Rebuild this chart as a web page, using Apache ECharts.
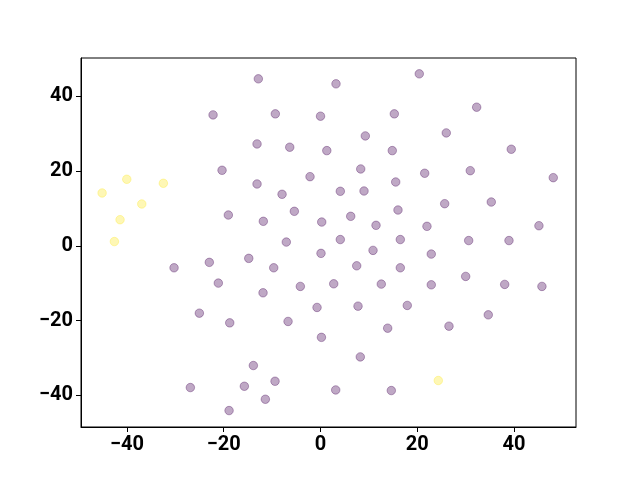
<!DOCTYPE html>
<html><head><meta charset="utf-8">
<script src="https://cdn.jsdelivr.net/npm/echarts@6/dist/echarts.min.js"></script>
<style>html,body{margin:0;padding:0;background:#fff}#c{width:640px;height:480px}</style>
</head><body><div id="c"></div>
<script>
const purpleX = [-12.85,-22.21,-9.34,0.0,-13.12,-6.36,1.30,-20.35,-2.17,-13.12,-7.95,-19.05,-11.82,-5.41,0.25,-7.07,3.20,20.41,15.25,32.27,9.26,25.99,14.83,39.42,8.31,21.53,30.95,48.10,15.54,4.09,8.99,25.66,35.29,16.01,6.24,11.47,22.00,45.14,4.09,16.49,30.62,38.95,0.10,10.85,22.89,7.48,16.49,2.73,12.56,22.89,30.0,38.06,45.76,-0.72,7.75,17.93,34.67,13.88,26.55,0.19,8.22,3.14,14.63,-30.27,-22.98,-14.83,-9.67,-21.12,-11.88,-4.17,-25.04,-18.76,-6.71,-13.88,-26.90,-15.74,-9.40,-11.40,-18.90];
const purpleY = [44.72,35.07,35.34,34.72,27.29,26.41,25.50,20.24,18.53,16.57,13.81,8.26,6.57,9.25,6.38,1.02,43.38,46.06,35.34,37.13,29.44,30.24,25.50,25.87,20.59,19.44,20.13,18.26,17.10,14.61,14.69,11.29,11.74,9.60,7.91,5.50,5.23,5.39,1.69,1.69,1.42,1.42,-2.01,-1.21,-2.20,-5.34,-5.87,-10.16,-10.24,-10.43,-8.18,-10.32,-10.86,-16.49,-16.14,-15.95,-18.47,-22.04,-21.50,-24.50,-29.73,-38.58,-38.74,-5.87,-4.42,-3.35,-5.87,-9.97,-12.57,-10.86,-18.02,-20.62,-20.24,-32.04,-37.94,-37.59,-36.25,-41.07,-44.10];
const yellowX = [-40.04,-45.14,-32.48,-36.94,-41.43,-42.60,24.34];
const yellowY = [17.83,14.16,16.76,11.21,7.00,1.15,-36.06];
const xTicks = [-40,-20,0,20,40];
const yTicks = [-40,-20,0,20,40];

const zip = (a,b) => a.map((v,i)=>[v,b[i]]);
const fmt = v => (v<0 ? '\u2212'+Math.abs(v) : String(v));
const labelStyle = {fontFamily:'Roboto', fontWeight:'bold', fontSize:20, color:'#000'};
const chart = echarts.init(document.getElementById('c'), null, {renderer:'canvas'});
chart.setOption({
  animation:false,
  grid:{left:81, right:64, top:58, bottom:53, show:true, borderColor:'#000', borderWidth:1, backgroundColor:'transparent'},
  xAxis:{type:'value', min:-49.5, max:52.8, splitLine:{show:false},
    axisLine:{show:true, onZero:false, lineStyle:{color:'#000', width:1}},
    axisTick:{show:true, length:5, lineStyle:{color:'#000'}, customValues:xTicks},
    axisLabel:Object.assign({margin:8, customValues:xTicks, formatter:fmt}, labelStyle)},
  yAxis:{type:'value', min:-48.5, max:50.3, splitLine:{show:false},
    axisLine:{show:true, onZero:false, lineStyle:{color:'#000', width:1}},
    axisTick:{show:true, length:5, lineStyle:{color:'#000'}, customValues:yTicks},
    axisLabel:Object.assign({margin:8, customValues:yTicks, formatter:fmt}, labelStyle)},
  series:[
    {type:'scatter', data:zip(purpleX,purpleY), symbolSize:8.5,
     itemStyle:{color:'rgba(68,1,84,0.34)', borderColor:'rgba(68,1,84,0.34)', borderWidth:1, opacity:1}},
    {type:'scatter', data:zip(yellowX,yellowY), symbolSize:8.5,
     itemStyle:{color:'rgba(253,231,37,0.34)', borderColor:'rgba(253,231,37,0.34)', borderWidth:1, opacity:1}}
  ]
});
</script></body></html>
